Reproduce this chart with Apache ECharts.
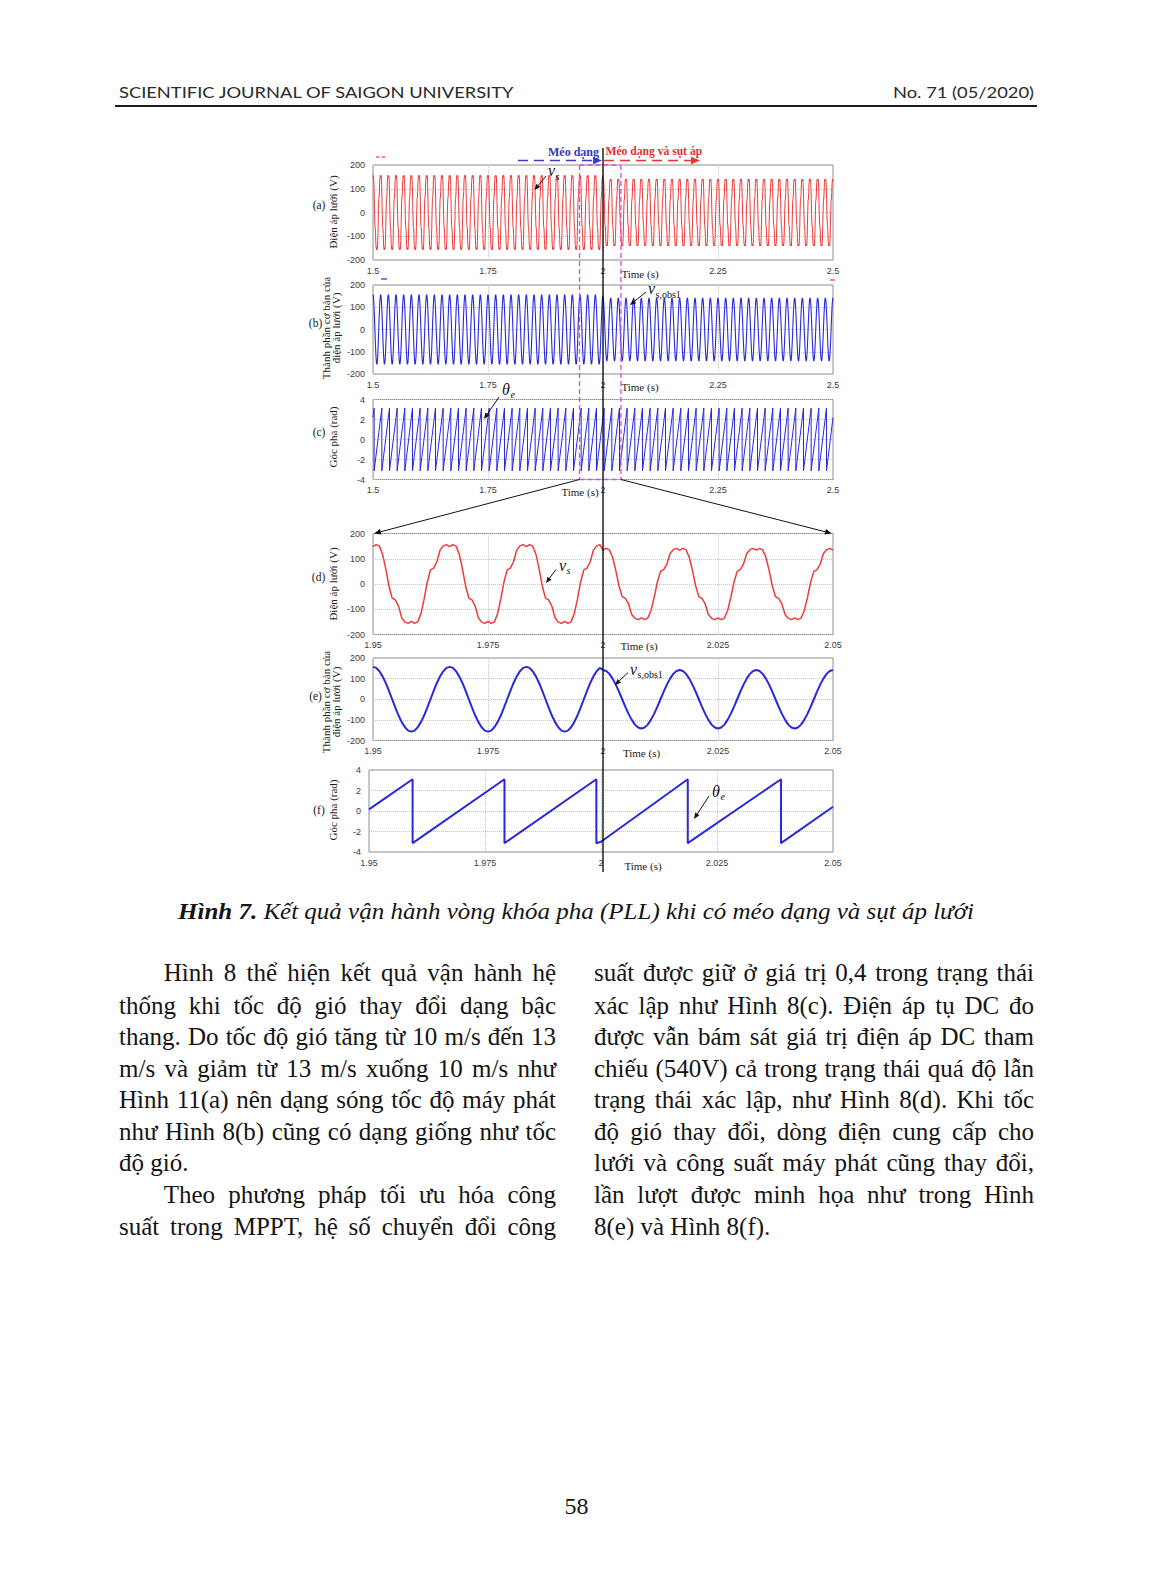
<!DOCTYPE html>
<html><head><meta charset="utf-8">
<script src="https://cdn.jsdelivr.net/npm/echarts/dist/echarts.min.js"></script>
<style>
html,body{margin:0;padding:0;background:#fff;}
#page{position:relative;width:1151px;height:1594px;overflow:hidden;background:#fff;}
#chart{position:absolute;left:0;top:0;width:1151px;height:1594px;}
.t{position:absolute;white-space:pre;color:#141414;}
</style></head>
<body><div id="page"><div id="chart"></div></div>
<script>
// ================= DATA =================
const timeStart = 1.5, timeEnd = 2.5, sagTime = 2.0;
const cyclesPerSecond = 60;                       // grid cycles counted in panels (a)-(e)
const xTicksWide = [1.5, 1.75, 2, 2.25, 2.5];
const xTicksZoom = [1.95, 1.975, 2, 2.025, 2.05];
const yTicksVolt = [-200, -100, 0, 100, 200];
const yTicksRad = [-4, -2, 0, 2, 4];
// one cycle of the distorted grid voltage v_s (24 samples, starting at the crest centre)
const vsCycleBefore = [148, 156, 150, 118, 60, -8, -56, -63, -88, -134, -151, -156, -148, -156, -150, -118, -60, 8, 56, 63, 88, 134, 151, 156];
const vsCycleAfter  = [134, 141, 135, 106, 54, -7, -50, -57, -79, -121, -136, -141, -134, -141, -135, -106, -54, 7, 50, 57, 79, 121, 136, 141];
// one cycle of the fundamental v_s,obs1
const vfCycleBefore = [157, 152, 136, 111, 79, 41, 0, -41, -79, -111, -136, -152, -157, -152, -136, -111, -79, -41, 0, 41, 79, 111, 136, 152];
const vfCycleAfter  = [142, 137, 123, 100, 71, 37, 0, -37, -71, -100, -123, -137, -142, -137, -123, -100, -71, -37, 0, 37, 71, 100, 123, 137];
// phase angle, panel (c): value at 1.5 s, first wrap time, value at 2.5 s, wrap levels
const thetaCStart = 2.2, thetaCFirstWrap = 1.5025, thetaCEnd = 2.2;
const thetaTop = 3.14, thetaBottom = -3.14;
// phase angle, panel (f): corner points
const thetaFTime  = [1.95, 1.9594, 1.9594, 1.9792, 1.9792, 1.999, 1.999, 2.0, 2.0187, 2.0187, 2.0388, 2.0388, 2.05];
const thetaFValue = [0.16, 3.1, -3.14, 3.1, -3.14, 3.1, -3.14, -3.0, 3.1, -3.14, 3.1, -3.14, 0.42];
// dashed zoom window drawn on panels (a)-(c)
const zoomBox = [1.949, 2.039];

// ================= TEXT =================
const headerLeft = "SCIENTIFIC JOURNAL OF SAIGON UNIVERSITY";
const headerRight = "No. 71 (05/2020)";
const captionBold = "Hình 7.";
const captionRest = " Kết quả vận hành vòng khóa pha (PLL) khi có méo dạng và sụt áp lưới";
const pageNo = "58";
const leftLines = ["Hình 8 thể hiện kết quả vận hành hệ","thống khi tốc độ gió thay đổi dạng bậc","thang. Do tốc độ gió tăng từ 10 m/s đến 13","m/s và giảm từ 13 m/s xuống 10 m/s như","Hình 11(a) nên dạng sóng tốc độ máy phát","như Hình 8(b) cũng có dạng giống như tốc","độ gió.","Theo phương pháp tối ưu hóa công","suất trong MPPT, hệ số chuyển đổi công"];
const leftIndent = [1,0,0,0,0,0,0,1,0];
const leftJustify = [1,1,1,1,1,1,0,1,1];
const rightLines = ["suất được giữ ở giá trị 0,4 trong trạng thái","xác lập như Hình 8(c). Điện áp tụ DC đo","được vẫn bám sát giá trị điện áp DC tham","chiếu (540V) cả trong trạng thái quá độ lẫn","trạng thái xác lập, như Hình 8(d). Khi tốc","độ gió thay đổi, dòng điện cung cấp cho","lưới và công suất máy phát cũng thay đổi,","lần lượt được minh họa như trong Hình","8(e) và Hình 8(f)."];
const rightJustify = [1,1,1,1,1,1,1,1,0];
const panelLetters = ["(a)","(b)","(c)","(d)","(e)","(f)"];
const yNames = ["Điện áp lưới (V)","Thành phần cơ bản của\nđiện áp lưới (V)","Góc pha (rad)","Điện áp lưới (V)","Thành phần cơ bản của\nđiện áp lưới (V)","Góc pha (rad)"];

// ================= BUILD SERIES =================
function tileCycles(before, after){
  const out = [];
  const n = Math.round((timeEnd - timeStart) * cyclesPerSecond);
  for (let k = 0; k < n; k++){
    const tc = timeStart + k / cyclesPerSecond;
    const shape = tc < sagTime - 1e-9 ? before : after;
    for (let i = 0; i < shape.length; i++) out.push([tc + i / (cyclesPerSecond * shape.length), shape[i]]);
  }
  out.push([timeEnd, after[0]]);
  return out;
}
function windowed(data, a, b){ return data.filter(p => p[0] >= a - 1e-9 && p[0] <= b + 1e-9); }
const vsWide = tileCycles(vsCycleBefore, vsCycleAfter);
const vfWide = tileCycles(vfCycleBefore, vfCycleAfter);
const thetaWide = [[timeStart, thetaCStart]];
for (let k = 0; ; k++){
  const tw = thetaCFirstWrap + k / cyclesPerSecond;
  if (tw >= timeEnd) break;
  thetaWide.push([tw, thetaTop], [tw, thetaBottom]);
}
thetaWide.push([timeEnd, thetaCEnd]);
const thetaZoom = thetaFTime.map((t, i) => [t, thetaFValue[i]]);
const vsZoom = windowed(vsWide, xTicksZoom[0], xTicksZoom[4]);
const vfZoom = windowed(vfWide, xTicksZoom[0], xTicksZoom[4]);

// ================= CHART =================
const RED = '#ee3a3a', BLUE = '#2828dc';
const SERIF = "'Liberation Serif', 'Times New Roman', serif";
const SANS = "'Liberation Sans', Arial, sans-serif";
const gridBox = [
  {left:373, top:165, width:460, height:95},
  {left:373, top:285, width:460, height:89},
  {left:373, top:399.5, width:460, height:80},
  {left:373, top:533.5, width:460, height:101},
  {left:373, top:658, width:460, height:82.5},
  {left:369, top:770, width:464, height:82}
];
const isZoom = [false,false,false,true,true,true];
const isRad = [false,false,true,false,false,true];
const chart = echarts.init(document.getElementById('chart'), null, {renderer:'svg', width:1151, height:1594});
const option = {
  animation:false,
  grid: gridBox.map(g => Object.assign({show:true, borderColor:'#8e8e8e', borderWidth:1, backgroundColor:'rgba(0,0,0,0)'}, g)),
  xAxis: gridBox.map((g, i) => {
    const tk = isZoom[i] ? xTicksZoom : xTicksWide;
    return {gridIndex:i, type:'value', min:tk[0], max:tk[tk.length-1], interval:+(tk[1]-tk[0]).toFixed(4),
      axisLine:{show:false}, axisTick:{show:false},
      splitLine:{show:true, lineStyle:{type:'dotted', color:'#c4c4c4', width:1}},
      axisLabel:{fontSize:9, color:'#3a3a3a', fontFamily:SANS, margin:6, showMinLabel:true, showMaxLabel:true,
        formatter: v => String(+v.toFixed(isZoom[i] ? 3 : 2))}};
  }),
  yAxis: gridBox.map((g, i) => {
    const tk = isRad[i] ? yTicksRad : yTicksVolt;
    return {gridIndex:i, type:'value', min:tk[0], max:tk[tk.length-1], interval:tk[1]-tk[0],
      axisLine:{show:false}, axisTick:{show:false},
      splitLine:{show:true, lineStyle:{type:'dotted', color:'#c4c4c4', width:1}},
      axisLabel:{fontSize:9, color:'#3a3a3a', fontFamily:SANS, margin:8}};
  }),
  series: [
    {data:vsWide, color:RED, w:1},
    {data:vfWide, color:BLUE, w:1.1},
    {data:thetaWide, color:BLUE, w:1},
    {data:vsZoom, color:RED, w:1.5},
    {data:vfZoom, color:BLUE, w:2},
    {data:thetaZoom, color:BLUE, w:2}
  ].map((s, i) => ({type:'line', xAxisIndex:i, yAxisIndex:i, data:s.data, showSymbol:false, silent:true,
      lineStyle:{color:s.color, width:s.w}, itemStyle:{color:s.color}}))
};
chart.setOption(option);

// ================= OVERLAY GRAPHICS =================
const G = [];
function line(x1,y1,x2,y2,color,w,dash){ G.push({type:'line', silent:true, z:100, shape:{x1,y1,x2,y2}, style:{stroke:color, lineWidth:w, lineDash:dash||null}}); }
function arrow(x1,y1,x2,y2,color,w,dash,head){
  const L = head || 6, W = L * 0.42, a = Math.atan2(y2-y1, x2-x1);
  const bx = x2 - L*Math.cos(a), by = y2 - L*Math.sin(a), px = -Math.sin(a), py = Math.cos(a);
  line(x1,y1,bx,by,color,w,dash);
  G.push({type:'polygon', silent:true, z:101, shape:{points:[[x2,y2],[bx+px*W,by+py*W],[bx-px*W,by-py*W]]}, style:{fill:color}});
}
function text(x,y,str,font,color,align,vAlign,rot,lh){
  G.push({type:'text', silent:true, z:102, x, y, rotation:rot||0,
    style:{text:str, font, fill:color||'#111', align:align||'left', verticalAlign:vAlign||'middle', textAlign:align||'left', textVerticalAlign:vAlign||'middle', lineHeight:lh||undefined}});
}
const px = (gi, t) => chart.convertToPixel({xAxisIndex:gi}, t);
const x2s = px(0, sagTime);
const bx1 = px(0, zoomBox[0]), bx2 = px(0, zoomBox[1]);
const aTop = gridBox[0].top, cBot = gridBox[2].top + gridBox[2].height;
const dG = gridBox[3];

// top annotation
text(573.5, 151.5, 'Méo dạng', "bold 12px " + SERIF, '#3434c6', 'center');
text(605.5, 151.5, 'Méo dạng và sụt áp', "bold 11.6px " + SERIF, '#e23030', 'left');
arrow(518, 160.5, x2s - 1, 160.5, '#3a3ad6', 1.7, [10, 6], 9);
arrow(x2s + 1, 160.5, 700, 160.5, '#ee3030', 1.7, [10, 6], 9);
// magenta zoom window
const MAG = '#d64ed6';
line(bx1, aTop, bx1, cBot, MAG, 1.3, [5, 3]);
line(bx2, aTop, bx2, cBot, MAG, 1.3, [5, 3]);
line(bx1, aTop, bx2, aTop, MAG, 1.3, [5, 3]);
line(bx1, cBot, bx2, cBot, MAG, 1.3, [5, 3]);
// connectors to zoomed panels
arrow(bx1, cBot, dG.left + 1, dG.top, '#111', 1, null, 7);
arrow(bx2, cBot, dG.left + dG.width - 1, dG.top, '#111', 1, null, 7);
// vertical black line at 2 s
line(x2s, 148, x2s, 872, '#000', 1.3);
// small legend remnants
line(376, 157, 379.5, 157, RED, 1.2); line(381.5, 157, 385, 157, RED, 1.2);
line(381, 279, 387, 279, BLUE, 1.2); line(830, 280, 835, 280, RED, 1.2);

// curve labels
function vLabel(x, y, sub, ax, ay, bx, by, greek){
  text(x, y, greek ? 'θ' : 'v', "italic 16px " + SERIF, '#111', 'left');
  text(x + (greek ? 8.5 : 7.5), y + 5.5, sub, (sub.length > 1 ? "" : "italic ") + "10px " + SERIF, '#111', 'left');
  arrow(ax, ay, bx, by, '#111', 1, null, 6);
}
vLabel(548, 170.5, 's', 546, 176, 534.5, 190);
vLabel(648, 288.5, 's,obs1', 646, 292, 630, 305);
vLabel(502, 389, 'e', 499, 397, 484, 419, true);
vLabel(559, 565, 's', 556, 569.5, 546, 583);
vLabel(630, 669, 's,obs1', 628, 672.5, 615, 685);
vLabel(712, 791, 'e', 709, 796, 694, 819, true);

// y-axis names and panel letters
const yNameX = [333, 331, 333, 333, 331, 333];
const yNameY = [212, 328, 437, 584, 702, 810];
const letterX = [319, 315.5, 319, 318.5, 315.5, 319];
const letterY = [205, 323, 432, 577, 696, 810];
gridBox.forEach((g, i) => {
  text(yNameX[i], yNameY[i], yNames[i], "11px " + SERIF, '#1a1a1a', 'center', 'middle', Math.PI/2, 10.5);
  text(letterX[i], letterY[i], panelLetters[i], "11.5px " + SERIF, '#1a1a1a', 'center', 'middle');
});
// Time (s) labels
const timeLab = [[640, 273.5], [640, 387], [580, 492], [639, 646], [641.5, 752.5], [643, 866]];
timeLab.forEach(p => text(p[0], p[1], 'Time (s)', "11px " + SERIF, '#1a1a1a', 'center', 'middle'));

chart.setOption({graphic:{elements:G}});

// ================= PAGE TEXT (HTML) =================
const page = document.getElementById('page');
function placeText(html, o){
  const d = document.createElement('div');
  d.className = 't';
  d.style.fontFamily = o.family; d.style.fontSize = o.size + 'px'; d.style.lineHeight = (o.size * 1.15) + 'px';
  if (o.style) d.style.fontStyle = o.style;
  if (o.weight) d.style.fontWeight = o.weight;
  d.style.color = o.color || '#141414';
  d.innerHTML = html; page.appendChild(d);
  let w = d.getBoundingClientRect().width, sx = 1;
  if (o.width){
    if (o.justify && w < o.width){
      const n = (d.textContent.match(/ /g) || []).length;
      if (n) d.style.wordSpacing = ((o.width - w) / n) + 'px';
      w = o.width;
    } else if (o.fit || w > o.width){ sx = o.width / w; }
  }
  const vw = w * sx;
  let left = o.x;
  if (o.align === 'center') left = o.x - vw / 2; else if (o.align === 'right') left = o.x - vw;
  d.style.left = left + 'px';
  d.style.top = (o.cy - o.size * (o.vc || 0.6)) + 'px';
  if (sx !== 1){ d.style.transformOrigin = '0 0'; d.style.transform = 'scaleX(' + sx + ')'; }
  return d;
}
const HDR = "Lato, 'Open Sans', sans-serif";
placeText(headerLeft, {family:HDR, size:16, weight:400, x:119, cy:92.5, width:394.5, fit:true, color:'#2a2a2a'});
placeText(headerRight, {family:HDR, size:16, weight:400, x:1034, cy:92.5, width:141, fit:true, align:'right', color:'#2a2a2a'});
const rule = document.createElement('div');
rule.style.cssText = 'position:absolute;left:115px;top:105px;width:922px;height:2px;background:#1b1b1b;';
page.appendChild(rule);
placeText('<b>' + captionBold + '</b>' + captionRest, {family:SERIF, size:24, style:'italic', x:576, cy:913, width:796, fit:true, align:'center', vc:0.64});
const lineYs = [975.5, 1008, 1039.5, 1071, 1102.5, 1134, 1165.5, 1197, 1229.5];
const colL = [119, 556], colR = [594, 1034], indentX = 163.7;
const BODY = 25;
leftLines.forEach((s, i) => {
  const x0 = leftIndent[i] ? indentX : colL[0];
  placeText(s, {family:SERIF, size:BODY, x:x0, cy:lineYs[i], width: leftJustify[i] ? colL[1] - x0 : 0, justify:true, vc:0.66});
});
rightLines.forEach((s, i) => {
  placeText(s, {family:SERIF, size:BODY, x:colR[0], cy:lineYs[i], width: rightJustify[i] ? colR[1] - colR[0] : 0, justify:true, vc:0.66});
});
placeText(pageNo, {family:SERIF, size:24, x:576.5, cy:1509, align:'center', vc:0.66});
</script></body></html>
